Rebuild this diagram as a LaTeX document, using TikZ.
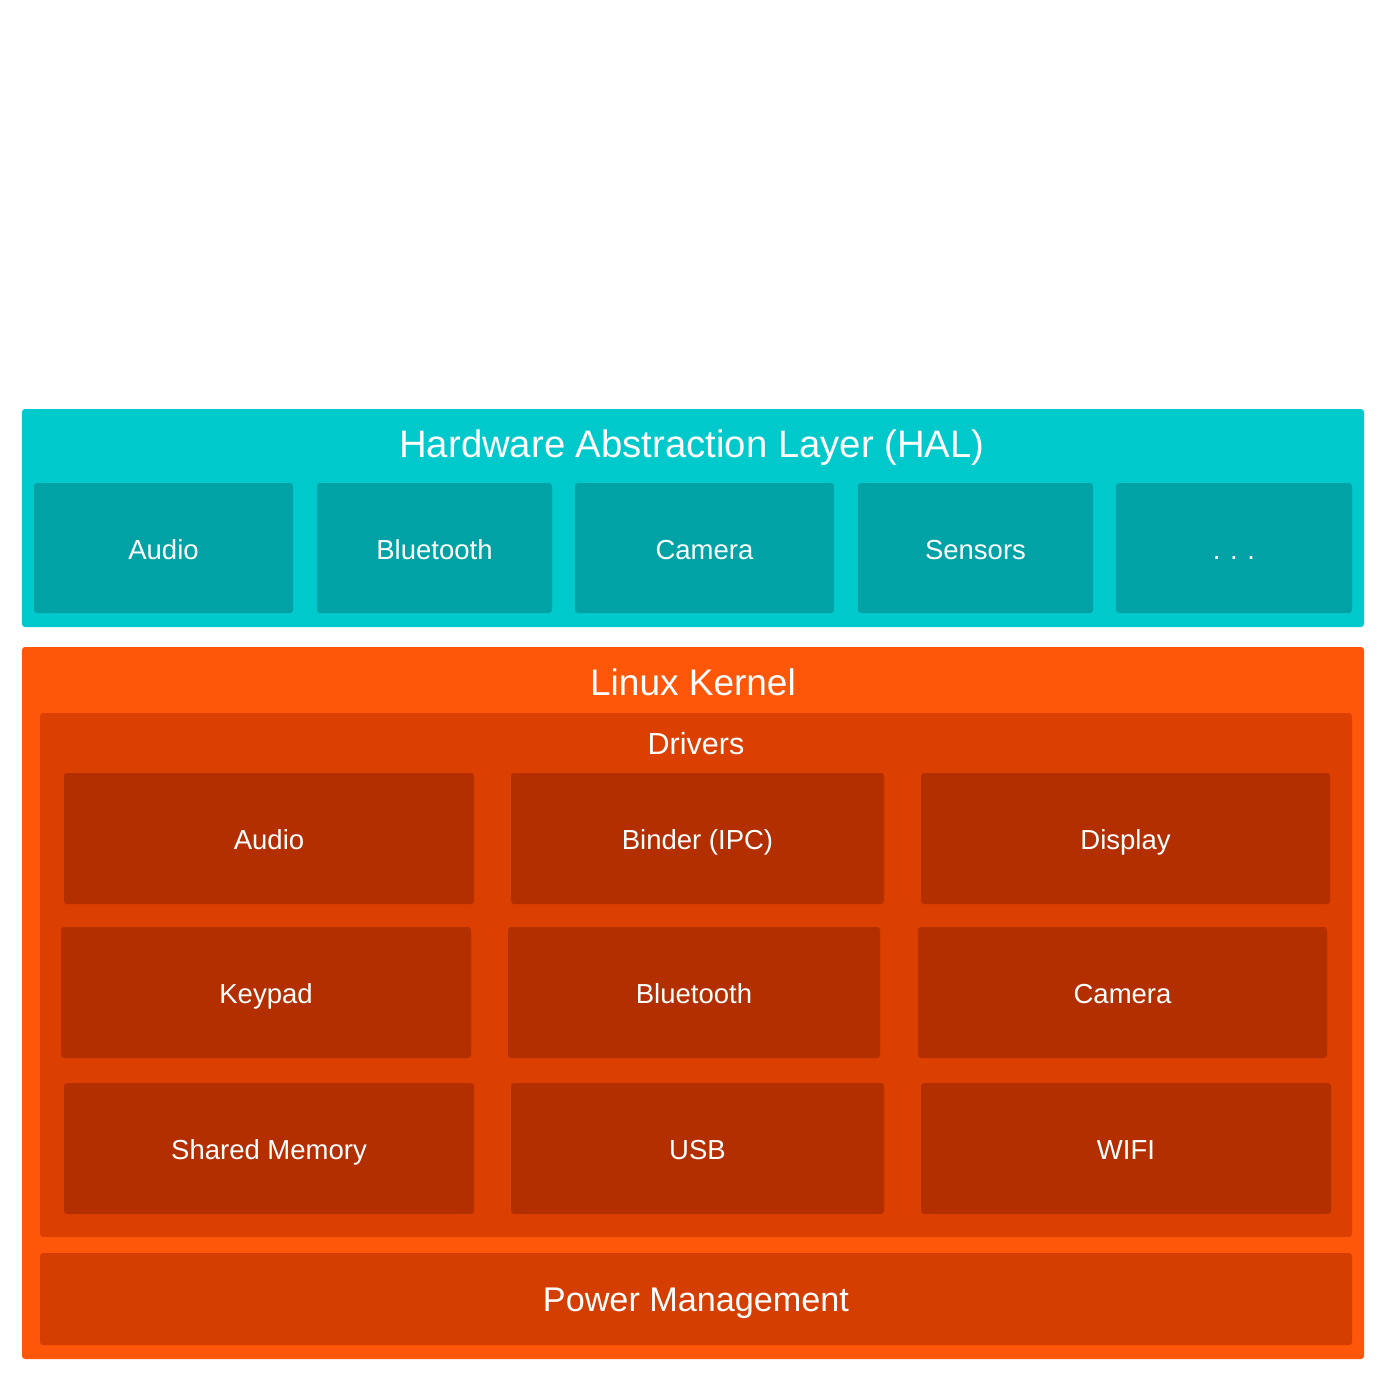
\documentclass[tikz,border=0pt]{standalone}
\usepackage{fontspec}
\setmainfont{Liberation Sans}
\definecolor{halouter}{RGB}{0,201,204}
\definecolor{halbox}{RGB}{0,162,165}
\definecolor{kernel}{RGB}{255,87,10}
\definecolor{drivers}{RGB}{219,64,0}
\definecolor{dbox}{RGB}{179,47,0}
\definecolor{power}{RGB}{212,62,0}
\begin{document}
\begin{tikzpicture}[x=1pt,y=-1pt,
  panel/.style={rounded corners=3pt, inner sep=0pt, draw=none},
  boxlabel/.style={text=white, font=\fontsize{27.5}{33}\selectfont, text height=22.7pt, text depth=0pt},
  titlelabel/.style={text=white, inner sep=0pt, font=\fontsize{38.3}{46}\selectfont, text height=27.4pt, text depth=0pt},
  sublabel/.style={text=white, inner sep=0pt, font=\fontsize{30.5}{36}\selectfont, text height=21.8pt, text depth=0pt},
  halb/.style={panel, boxlabel, fill=halbox, minimum height=130pt},
  drvb/.style={panel, boxlabel, fill=dbox, minimum height=131pt},
]
\useasboundingbox (0,0) rectangle (1384,1381);
\fill[white] (0,0) rectangle (1384,1381);

% HAL
\node[panel, fill=halouter, minimum width=1342pt, minimum height=218pt] (hal) at (693,518) {};
\node[titlelabel] (haltitle) at (692,444) {Hardware Abstraction Layer (HAL)};
\node[halb, minimum width=259pt] (hA) at (163.5,548) {Audio};
\node[halb, minimum width=235pt] (hB) at (434.5,548) {Bluetooth};
\node[halb, minimum width=259pt] (hC) at (704.5,548) {Camera};
\node[halb, minimum width=235pt] (hS) at (975.5,548) {Sensors};
\node[halb, minimum width=236pt] (hD) at (1234,548) {.\hspace{0.35em}.\hspace{0.35em}.};

% Kernel
\node[panel, fill=kernel, minimum width=1342pt, minimum height=712pt] (kern) at (693,1003) {};
\node[titlelabel, font=\fontsize{37}{44}\selectfont, text height=26.5pt] (kerntitle) at (693,682) {Linux Kernel};
\node[panel, fill=drivers, minimum width=1312pt, minimum height=524pt] (drv) at (696,975) {};
\node[sublabel] (drvtitle) at (696,744) {Drivers};

\node[drvb, minimum width=410pt] (d11) at (269,838.5) {Audio};
\node[drvb, minimum width=373pt] (d12) at (697.5,838.5) {Binder (IPC)};
\node[drvb, minimum width=409pt] (d13) at (1125.5,838.5) {Display};

\node[drvb, minimum width=410pt] (d21) at (266,992.5) {Keypad};
\node[drvb, minimum width=372pt] (d22) at (694,992.5) {Bluetooth};
\node[drvb, minimum width=409pt] (d23) at (1122.5,992.5) {Camera};

\node[drvb, minimum width=410pt] (d31) at (269,1148.5) {Shared Memory};
\node[drvb, minimum width=373pt] (d32) at (697.5,1148.5) {USB};
\node[drvb, minimum width=410pt] (d33) at (1126,1148.5) {WIFI};

\node[panel, fill=power, text=white, minimum width=1312pt, minimum height=92pt,
  font=\fontsize{34.2}{41}\selectfont, text height=24.5pt, text depth=0pt] (pm) at (696,1299) {Power Management};
\end{tikzpicture}
\end{document}
